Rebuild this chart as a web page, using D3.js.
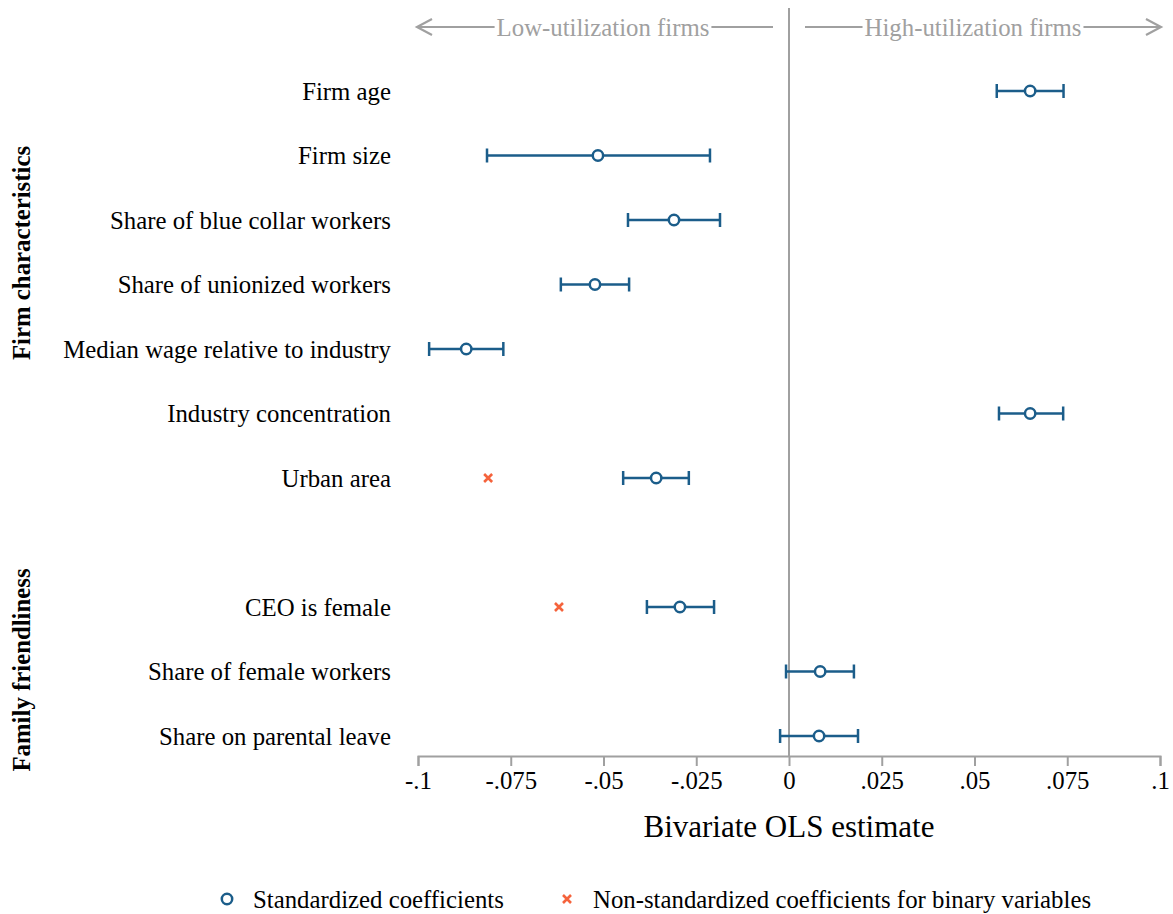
<!DOCTYPE html>
<html><head><meta charset="utf-8">
<script src="https://cdn.jsdelivr.net/npm/d3@7"></script>
<style>body{margin:0;background:#fff}svg{display:block}text{font-family:"Liberation Serif","Times New Roman",serif}</style>
</head><body><svg id="c" width="1173" height="914"></svg>
<script>
const categories = ["Firm age","Firm size","Share of blue collar workers","Share of unionized workers","Median wage relative to industry","Industry concentration","Urban area","","CEO is female","Share of female workers","Share on parental leave"];
const estimates = [0.065,-0.0515,-0.031,-0.0523,-0.087,0.065,-0.0358,null,-0.0294,0.0084,0.0081];
const ciLow  = [0.056,-0.0814,-0.0434,-0.0615,-0.097,0.0566,-0.0447,null,-0.0383,-0.0008,-0.0024];
const ciHigh = [0.074,-0.0213,-0.0186,-0.0431,-0.077,0.0739,-0.027,null,-0.0202,0.0175,0.0186];
const binaryEst = [null,null,null,null,null,null,-0.0811,null,-0.062,null,null];
const xTicks = [-0.1,-0.075,-0.05,-0.025,0,0.025,0.05,0.075,0.1];
const tickLabels = ["-.1","-.075","-.05","-.025","0",".025",".05",".075",".1"];
const groups = ["Firm characteristics","Family friendliness"];
const legendLabels = ["Standardized coefficients","Non-standardized coefficients for binary variables"];
const arrowLabels = ["Low-utilization firms","High-utilization firms"];

const blue="#1b5d8a", orange="#f5633c", gray="#a0a0a0";
const FS=24.8;
const svg=d3.select("#c");
const x=d3.scaleLinear().domain([-0.1,0.1]).range([418,1160]);
const y=d3.scalePoint().domain(d3.range(categories.length)).range([91,736]);
const axisY=756;

// zero line
svg.append("line").attr("x1",x(0)).attr("x2",x(0)).attr("y1",8).attr("y2",axisY).attr("stroke",gray).attr("stroke-width",2);

// axis
const ax=svg.append("g").attr("transform",`translate(0,${axisY})`).attr("font-family","Liberation Serif")
  .call(d3.axisBottom(x).tickValues(xTicks).tickFormat((d,i)=>tickLabels[i]).tickSize(10).tickPadding(5));
ax.select(".domain").attr("stroke",gray).attr("stroke-width",2);
ax.selectAll(".tick line").attr("stroke",gray).attr("stroke-width",2);
ax.selectAll(".tick text").attr("font-size",FS).attr("fill","#000");
svg.append("text").attr("x",x(0)).attr("y",837).attr("text-anchor","middle").attr("font-size",31).text("Bivariate OLS estimate");

// row labels
svg.selectAll(".rl").data(categories).join("text").attr("class","rl")
  .attr("x",391).attr("y",(d,i)=>y(i)).attr("dy","0.35em").attr("text-anchor","end").attr("font-size",FS).text(d=>d);

// group labels
const gpos=[253,670];
groups.forEach((g,i)=>{
  svg.append("text").attr("transform",`translate(30,${gpos[i]}) rotate(-90)`).attr("text-anchor","middle")
    .attr("font-size",FS).attr("font-weight","bold").text(g);
});

// CIs
const idx=d3.range(categories.length).filter(i=>estimates[i]!==null);
const ci=svg.append("g").attr("stroke",blue).attr("stroke-width",2.5);
idx.forEach(i=>{
  const yy=y(i);
  ci.append("line").attr("x1",x(ciLow[i])).attr("x2",x(ciHigh[i])).attr("y1",yy).attr("y2",yy);
  ci.append("line").attr("x1",x(ciLow[i])).attr("x2",x(ciLow[i])).attr("y1",yy-7).attr("y2",yy+7);
  ci.append("line").attr("x1",x(ciHigh[i])).attr("x2",x(ciHigh[i])).attr("y1",yy-7).attr("y2",yy+7);
});
svg.selectAll(".pt").data(idx).join("circle").attr("class","pt")
  .attr("cx",i=>x(estimates[i])).attr("cy",i=>y(i)).attr("r",5.2)
  .attr("fill","#fff").attr("stroke",blue).attr("stroke-width",2.5);

function cross(g,cx,cy,s){
  g.append("path").attr("d",`M${cx-s},${cy-s}L${cx+s},${cy+s}M${cx-s},${cy+s}L${cx+s},${cy-s}`)
   .attr("stroke",orange).attr("stroke-width",2.6).attr("fill","none");
}
d3.range(categories.length).filter(i=>binaryEst[i]!==null).forEach(i=>cross(svg,x(binaryEst[i]),y(i),4));

// top arrows
const ay=27;
function arrow(x1,x2,tip,dir,label,cxText){
  const g=svg.append("g");
  const t=g.append("text").attr("x",cxText).attr("y",ay).attr("dy","0.35em").attr("text-anchor","middle").attr("font-size",FS).attr("fill",gray).text(label);
  const tw=t.node().getComputedTextLength();
  g.append("line").attr("x1",x1).attr("x2",cxText-tw/2-2).attr("y1",ay).attr("y2",ay).attr("stroke",gray).attr("stroke-width",2.2);
  g.append("line").attr("x1",cxText+tw/2+2).attr("x2",x2).attr("y1",ay).attr("y2",ay).attr("stroke",gray).attr("stroke-width",2.2);
  g.append("path").attr("d",`M${tip-dir*15},${ay-8}L${tip},${ay}L${tip-dir*15},${ay+8}`).attr("stroke",gray).attr("stroke-width",2.2).attr("fill","none");
}
arrow(417,773,417,-1,arrowLabels[0],603);
arrow(805,1161,1161,1,arrowLabels[1],973);

// legend
const ly=899;
svg.append("circle").attr("cx",227).attr("cy",ly).attr("r",5.2).attr("fill","#fff").attr("stroke",blue).attr("stroke-width",2.5);
svg.append("text").attr("x",253).attr("y",ly).attr("dy","0.35em").attr("font-size",FS).text(legendLabels[0]);
cross(svg,567,ly,4);
svg.append("text").attr("x",593).attr("y",ly).attr("dy","0.35em").attr("font-size",FS).text(legendLabels[1]);
</script></body></html>
